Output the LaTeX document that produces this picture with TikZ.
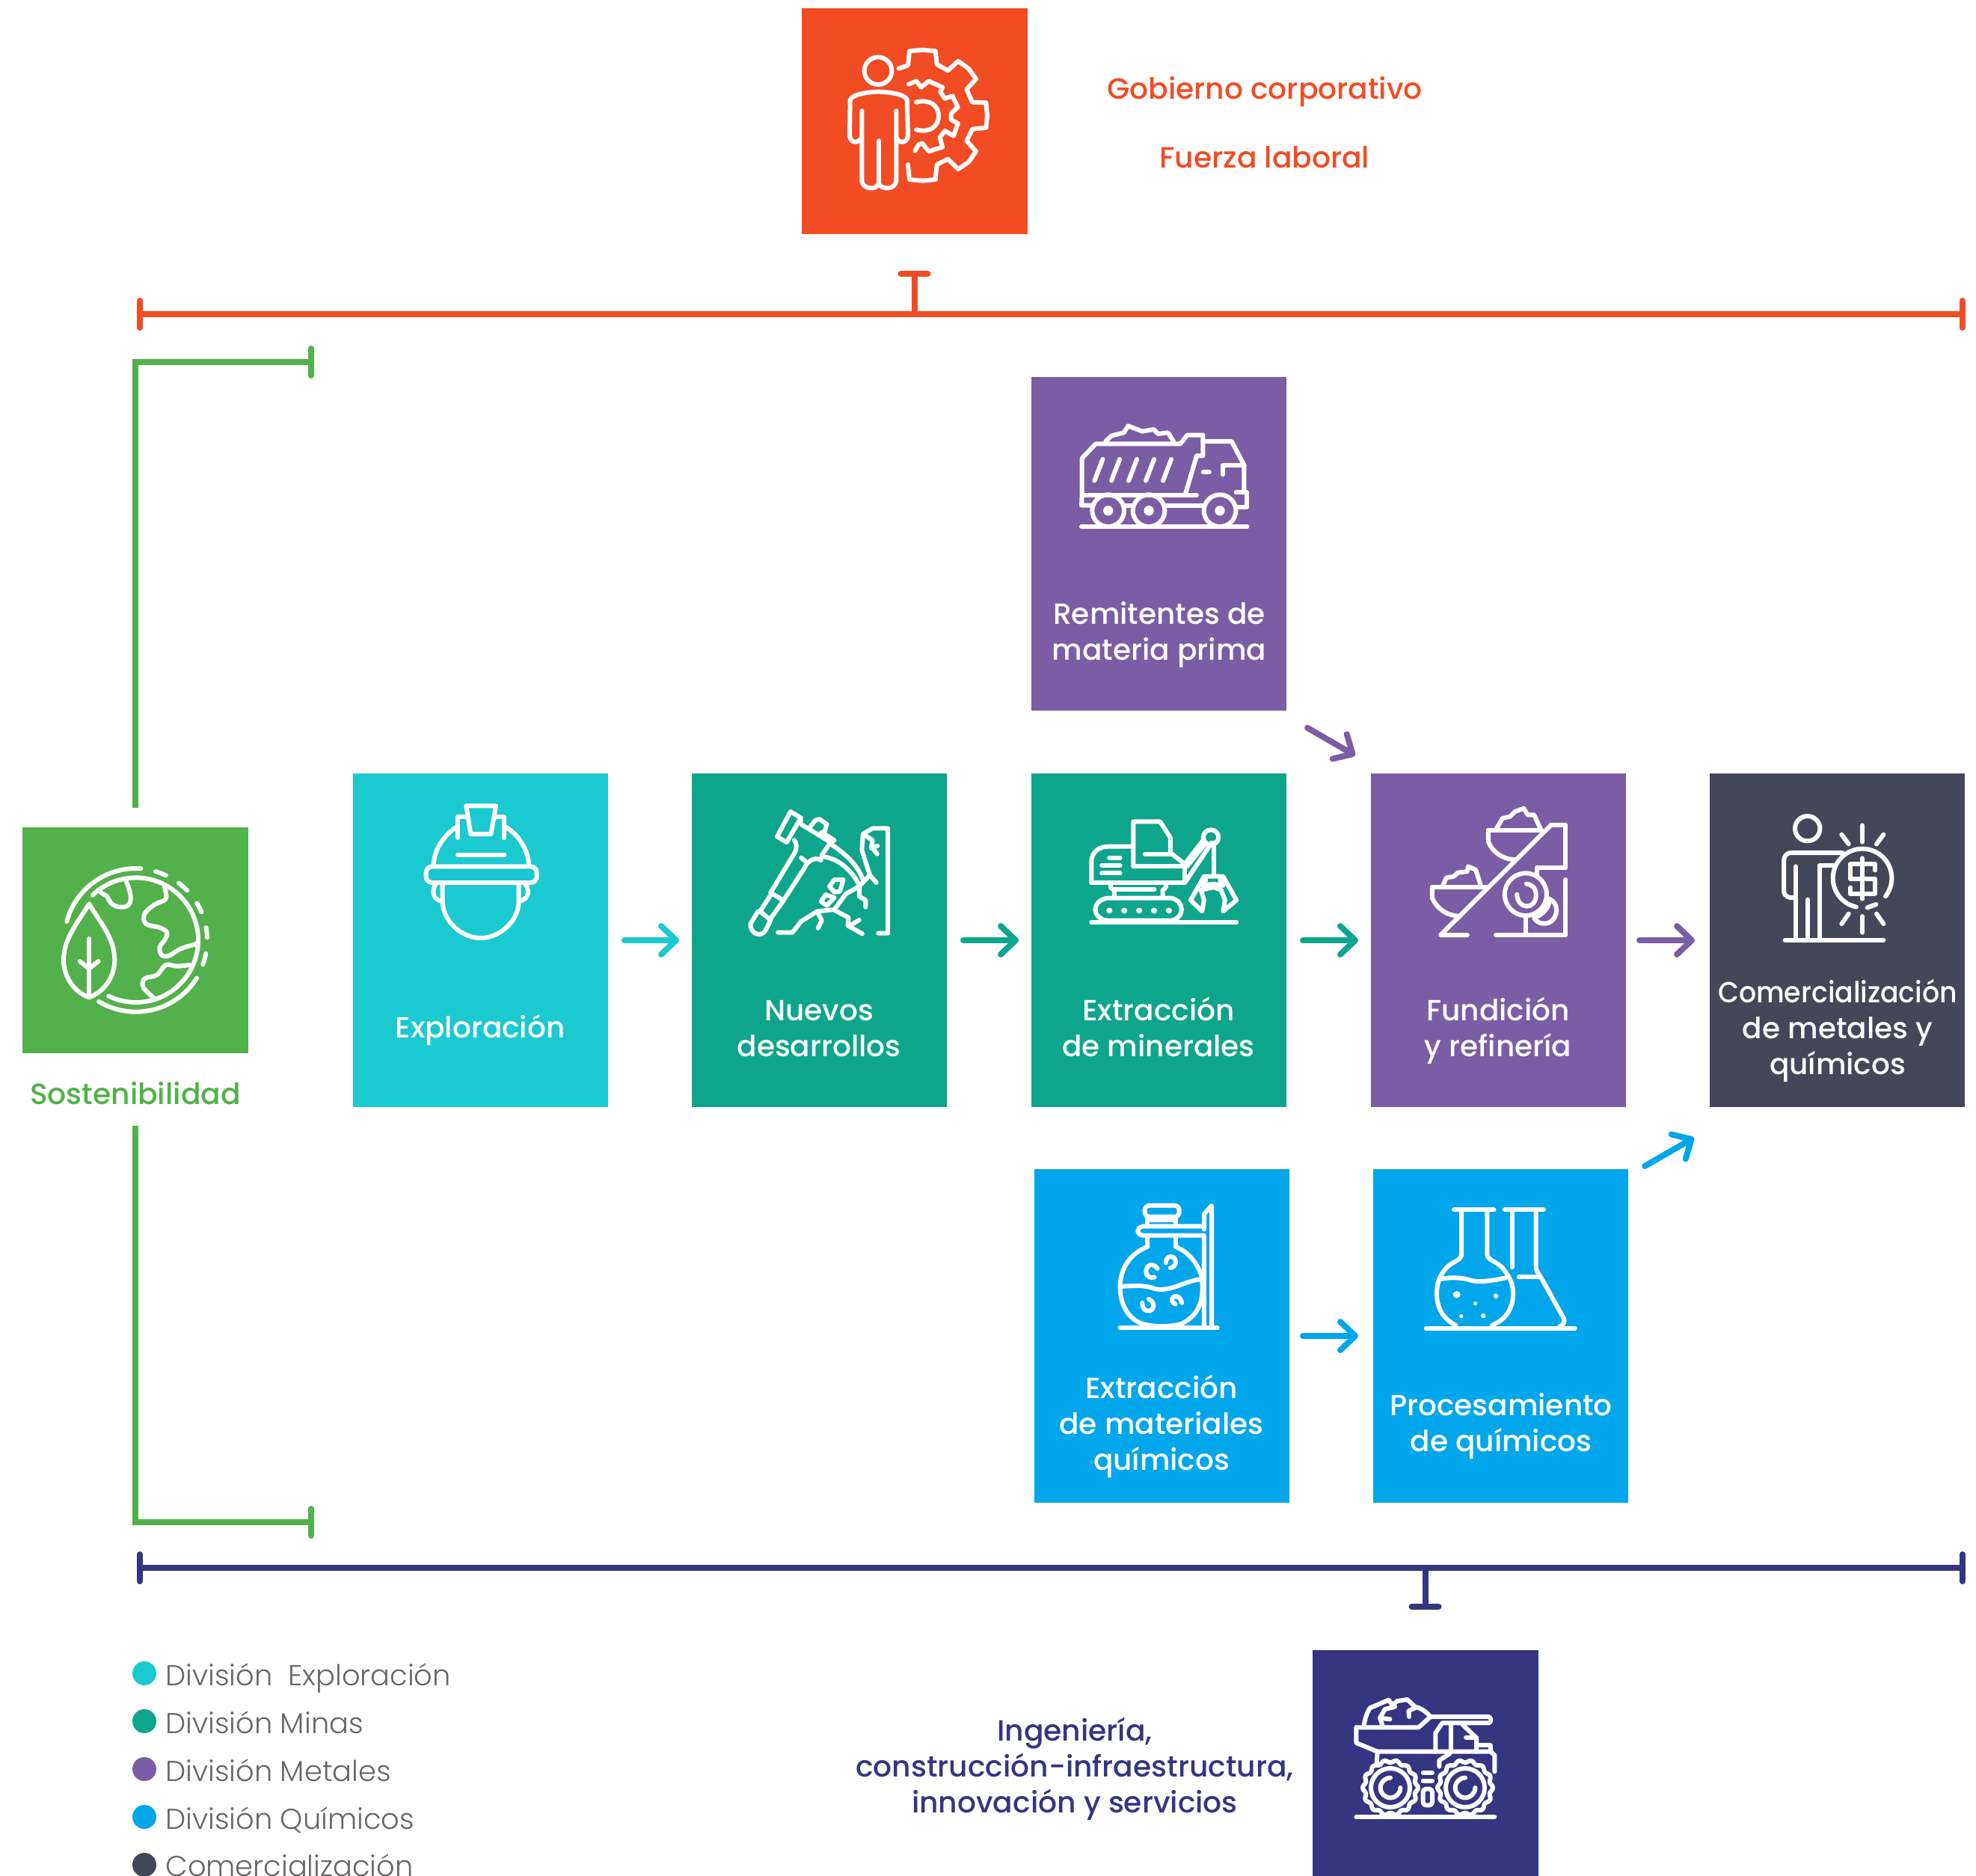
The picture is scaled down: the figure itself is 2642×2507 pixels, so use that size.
\documentclass[tikz,border=0pt]{standalone}
\usepackage{fontspec}
\setmainfont{Poppins}
\newfontfamily\medf{Poppins Medium}
\newfontfamily\lightf{Poppins Light}
\usetikzlibrary{arrows.meta,calc}
\definecolor{corange}{HTML}{F24C24}
\definecolor{cgreen}{HTML}{52B14B}
\definecolor{ccyan}{HTML}{1BC9D0}
\definecolor{cteal}{HTML}{0EA58D}
\definecolor{cpurple}{HTML}{7B5DA5}
\definecolor{cblue}{HTML}{02A6EB}
\definecolor{cdark}{HTML}{444659}
\definecolor{cnavy}{HTML}{353581}
\definecolor{cgrey}{HTML}{666666}
\newcommand{\carc}[5]{\draw ([shift={(#1,#2)}]#4:#3) arc[start angle=#4,end angle=#5,radius=#3];}
\tikzset{
 bx/.style={rectangle,inner sep=0pt,outer sep=0pt,minimum width=170.5pt,minimum height=223pt},
 sq/.style={rectangle,inner sep=0pt,outer sep=0pt,minimum width=151pt,minimum height=151pt},
 lab/.style={text=white,align=center,inner sep=0pt,font=\medf\fontsize{19.5}{24}\selectfont},
 head/.style={inner sep=0pt,align=center,font=\medf\fontsize{19.6}{24}\selectfont},
 leg/.style={anchor=base west,inner sep=0pt,text=cgrey,font=\lightf\fontsize{19.2}{22}\selectfont},
 dot/.style={circle,inner sep=0pt,minimum size=16pt},
 arr/.style={line width=4pt,line cap=round,-{Straight Barb[length=10pt,width=19pt,round]}},
 bus/.style={line width=4pt,{Bar[width=18pt,round]}-{Bar[width=18pt,round]}},
 stem/.style={line width=4pt,{Bar[width=18pt,round]}-},
 zs/.style={x=0.166667pt,y=-0.166667pt},
 zw/.style={x=0.2551pt,y=-0.166667pt},
 icon/.style={draw=white,line width=3pt,line cap=round,line join=round},
}
\begin{document}
\begin{tikzpicture}[x=0.5pt,y=-0.5pt]
\useasboundingbox (0,0) rectangle (2642,2507);
% boxes
\node[sq,fill=corange] (gob) at (1222.5,162) {};
\node[sq,fill=cgreen] (sost) at (181,1257) {};
\node[sq,fill=cnavy] (ing) at (1905.5,2357) {};
\node[bx,fill=cpurple] (remit) at (1549.5,727) {};
\node[bx,fill=ccyan] (expl) at (642.5,1257) {};
\node[bx,fill=cteal] (nuev) at (1095.5,1257) {};
\node[bx,fill=cteal] (extr) at (1549.5,1257) {};
\node[bx,fill=cpurple] (fund) at (2003.5,1257) {};
\node[bx,fill=cdark] (comer) at (2456.5,1257) {};
\node[bx,fill=cblue] (emat) at (1553.5,1786) {};
\node[bx,fill=cblue] (proc) at (2006.5,1786) {};
% labels
\node[head,text=corange] (tgob) at (1691,123) {Gobierno corporativo};
\node[head,text=corange] (tfue) at (1691,210) {Fuerza laboral};
\node[head,text=cgreen] (tsost) at (181,1462) {Sostenibilidad};
\node[head,text=cnavy] (ting) at (1437,2365) {Ingeniería,\\construcción-infraestructura,\\innovación y servicios};
\node[lab] (tremit) at (1550,849) {Remitentes de\\materia prima};
\node[lab] (texpl) at (642,1377) {Exploración};
\node[lab] (tnuev) at (1095,1375) {Nuevos\\desarrollos};
\node[lab] (textr) at (1549,1373) {Extracción\\de minerales};
\node[lab] (tfund) at (2003,1378) {Fundición\\y refinería};
\node[lab] (tcomer) at (2457,1378) {\scalebox{0.93}[1]{Comercialización}\\de metales y\\químicos};
\node[lab] (temat) at (1553,1907) {Extracción\\de materiales\\químicos};
\node[lab] (tproc) at (2007,1907) {Procesamiento\\de químicos};
% legend
\node[dot,fill=ccyan] (d1) at (193,2237) {};
\node[dot,fill=cteal] (d2) at (193,2301) {};
\node[dot,fill=cpurple] (d3) at (193,2365) {};
\node[dot,fill=cblue] (d4) at (193,2429) {};
\node[dot,fill=cdark] (d5) at (193,2493) {};
\node[leg] (l1) at (221,2253) {División\ \ Exploración};
\node[leg] (l2) at (221,2317) {División Minas};
\node[leg] (l3) at (221,2381) {División Metales};
\node[leg] (l4) at (221,2445) {División Químicos};
\node[leg] (l5) at (221,2508) {Comercialización};
% bus lines
\coordinate (bo1) at (183,420); \coordinate (bo2) at (2628,420);
\coordinate (bn1) at (183,2096); \coordinate (bn2) at (2628,2096);
\coordinate (g1) at (420,484); \coordinate (g2) at (420,2035);
\draw[bus,corange] (bo1) -- (bo2);
\draw[stem,corange,shorten <=24.5pt] (gob.south) -- (gob.south |- bo1);
\draw[bus,cnavy] (bn1) -- (bn2);
\draw[stem,cnavy,shorten <=27.2pt] (ing.north) -- (ing.north |- bn1);
\draw[line width=4pt,cgreen,-{Bar[width=18pt,round]},shorten <=13pt] (sost.north) |- (g1);
\draw[line width=4pt,cgreen,-{Bar[width=18pt,round]},shorten <=48.5pt] (sost.south) |- (g2);
% arrows
\draw[arr,ccyan,shorten <=11pt,shorten >=8.5pt] (expl) -- (nuev);
\draw[arr,cteal,shorten <=11pt,shorten >=8.5pt] (nuev) -- (extr);
\draw[arr,cteal,shorten <=11pt,shorten >=8.5pt] (extr) -- (fund);
\draw[arr,cpurple,shorten <=9pt,shorten >=10pt] (fund) -- (comer);
\draw[arr,cblue,shorten <=9pt,shorten >=10pt] (emat) -- (proc);
\draw[arr,cpurple] ($(remit.south east)+(28,23)$) -- ($(fund.north west)+(-21,-24)$);
\draw[arr,cblue] ($(proc.north east)+(22,-4)$) -- ($(comer.south west)+(-21,41)$);
% --- icons ---
% person + gear
\begin{scope}[shift={(1060,0)},zs,icon]
\draw (342,284) circle[radius=55];
\draw (230,400) .. controls (240,375) and (320,368) .. (342,368) .. controls (370,368) and (450,375) .. (458,400);
\draw (230,400) -- (228,545) .. controls (232,575) and (262,578) .. (277,550);
\draw (458,400) -- (462,545) .. controls (458,575) and (425,578) .. (415,550);
\draw (277,445) -- (277,725) .. controls (280,760) and (335,765) .. (345,735) .. controls (355,765) and (412,760) .. (415,725) -- (415,445);
\draw (345,565) -- (345,735);
\draw (425,275)--(462,262)--(468,205)--(520,200)--(572,205)--(578,258)--(622,283)--(663,245)--(705,275)--(735,317)--(697,358)--(720,410)--(775,412)--(780,465)--(775,512)--(720,518)--(697,565)--(735,607)--(705,650)--(663,678)--(622,638)--(578,660)--(572,720)--(520,725)--(468,720)--(462,660);
\draw (465,338)--(495,325)--(515,350)--(545,325)--(600,350)--(592,370)--(610,395)--(640,385)--(662,430)--(635,455)--(635,480)--(662,495)--(645,545)--(610,525)--(590,550)--(600,590)--(545,607)--(520,575)--(505,580)--(490,605);
\draw (495,410) .. controls (550,395) and (585,425) .. (585,465) .. controls (585,505) and (550,535) .. (495,520);
\end{scope}
% dump truck
\begin{scope}[shift={(1380,500)},zs,icon]
\draw (198,612)--(862,612);
\draw (200,480)--(200,338)--(255,280)--(595,280)--(622,245)--(685,245)--(685,328)--(660,328)--(615,480);
\draw (295,270)--(318,248)--(368,235)--(385,208)--(442,230)--(488,222)--(505,240)--(545,235)--(568,272);
\foreach \a in {250,318,387,456,525} \draw (\a,428)--(\a+33,342);
\draw (200,485)--(660,485);
\draw (200,485)--(198,527)--(245,527);
\draw (372,527)--(400,527);
\draw (535,527)--(690,527);
\draw (820,535)--(862,535)--(862,475)--(818,475);
\draw (685,270)--(800,270)--(850,365)--(850,475);
\draw (765,403)--(765,365)--(850,365);
\draw (686,394)--(710,394);
\foreach \a in {305,468,753} {\draw (\a,548) circle[radius=64]; \fill[white] (\a,548) circle[radius=20];}
\end{scope}
% globe
\begin{scope}[shift={(0,1090)},zs,icon]
\carc{545}{500}{287}{195}{274}
\carc{545}{500}{288}{121}{32}
\carc{545}{500}{286}{286}{295}
\carc{545}{500}{286}{307}{316}
\carc{545}{500}{286}{329}{337}
\carc{545}{500}{286}{350}{358}
\carc{545}{500}{286}{11}{20}
\carc{545}{500}{250}{226}{476}
\draw (405,310) -- (430,325) .. controls (445,365) and (470,368) .. (490,368) .. controls (530,368) and (535,330) .. (505,262);
\draw plot[smooth,tension=.6] coordinates {(660,290)(665,335)(620,358)(580,395)(585,435)(640,450)(670,470)(660,500)(640,530)(650,562)(680,562)(725,535)(790,515)};
\draw plot[smooth,tension=.6] coordinates {(760,600)(710,605)(665,600)(630,640)(580,655)(575,690)(620,735)};
\draw (357,355) .. controls (320,420) and (255,490) .. (255,580) .. controls (255,650) and (300,710) .. (357,730) .. controls (415,710) and (460,650) .. (460,580) .. controls (460,490) and (395,420) .. (357,355) -- cycle;
\draw (357,495)--(357,725);
\draw (320,585)--(357,615)--(395,585);
\end{scope}
% helmet
\begin{scope}[shift={(460,1030)},zw,icon]
\draw[rounded corners=4pt] (215,385) rectangle (505,450);
\draw (235,380) .. controls (235,320) and (260,260) .. (297,225);
\draw (485,380) .. controls (482,320) and (460,260) .. (422,225);
\draw (298,270)--(298,185)--(322,185);
\draw (420,270)--(420,185)--(396,185);
\draw (320,142)--(398,142)--(385,255)--(332,255)--cycle;
\draw (298,338)--(420,338);
\draw (258,450)--(258,530) .. controls (262,610) and (310,672) .. (358,672) .. controls (405,672) and (455,610) .. (458,530) -- (458,450);
\draw (240,455) .. controls (228,490) and (235,520) .. (258,525);
\draw (475,455) .. controls (490,490) and (480,520) .. (458,525);
% pick
\draw (1170,165)--(1197,190)--(1160,288)--(1135,265)--cycle;
\draw (1197,190)--(1197,215)--(1275,288)--(1252,340);
\draw (1222,225)--(1235,200)--(1245,195)--(1265,215)--(1260,245)--(1250,250);
\draw (1262,258)--(1285,280)--(1275,290);
\draw (1180,280) .. controls (1190,300) and (1185,325) .. (1175,345) -- (1118,490);
\draw (1150,525)--(1205,395) .. controls (1215,360) and (1235,345) .. (1250,360);
\draw (1198,350)--(1212,368);
\draw (1118,490)--(1150,520);
\draw (1118,500)--(1090,565)--(1118,600);
\draw (1150,525)--(1115,600);
\draw (1085,565)--(1065,615) .. controls (1065,660) and (1095,670) .. (1105,640) -- (1118,600);
\draw (1252,345) .. controls (1300,350) and (1340,420) .. (1350,462);
\draw (1280,300) .. controls (1320,340) and (1350,390) .. (1360,440);
\draw (1350,465)--(1315,495)--(1285,558)--(1240,565)--(1198,605)--(1175,650)--(1137,650);
\draw (1240,565)--(1252,602)--(1242,632);
\draw (1285,560)--(1322,590)--(1320,622)--(1358,655);
\draw (1330,618)--(1350,600);
\draw (1350,465)--(1350,505)--(1367,520)--(1367,548);
\draw (1350,465)--(1378,420)--(1357,320)--(1360,255)--(1385,232)--(1425,232)--(1425,653)--(1400,653);
\draw (1360,255)--(1385,280)--(1382,305)--(1397,335);
\draw (1382,312)--(1398,302);
\draw (1378,420)--(1395,450);
\draw (1285,438)--(1308,438)--(1300,485)--(1285,488)--(1272,465)--cycle;
\draw (1262,498)--(1285,510)--(1265,542)--(1250,525)--cycle;
\end{scope}
% excavator + smelter
\begin{scope}[shift={(1370,1030)},zw,icon]
\draw (175,610)--(555,610);
\draw (215,602)--(385,602) .. controls (420,590) and (420,525) .. (385,512) -- (215,512) .. controls (175,525) and (175,590) .. (215,602);
\foreach \a in {222,261,300,339,378} \fill[white] (\a,562) ellipse[x radius=8,y radius=12];
\draw (225,455)--(225,470)--(235,480)--(235,505);
\draw (370,455)--(370,470)--(362,480)--(362,505);
\draw (235,477)--(340,477);
\draw (175,450)--(420,450)--(420,385)--(285,385);
\draw (175,450)--(175,360) .. controls (178,325) and (195,305) .. (220,305) -- (285,305);
\draw (285,385)--(285,205)--(355,205)--(382,270)--(382,330)--(420,375);
\draw (315,335)--(382,335);
\draw (222,350)--(250,350); \draw (202,381)--(250,381); \draw (202,412)--(250,412);
\draw (420,375)--(470,275);
\draw (420,450)--(490,290);
\draw (425,385)--(475,290);
\draw (488,268) ellipse[x radius=20,y radius=30];
\draw (495,290)--(495,422);
\draw (470,425)--(520,425)--(555,520)--(520,565)--(525,520)--(515,480)--(495,468)--(462,480)--(470,520)--(465,565)--(435,520)--(470,425);
\draw (475,440)--(465,462)--(495,455)--(520,462)--(512,440);
% smelter
\draw (1380,218)--(1090,660)--(1160,660);
\draw (1380,218)--(1418,218)--(1418,390)--(1342,390)--(1342,425);
\draw (1235,660)--(1418,660)--(1418,438);
\draw (1215,240)--(1355,240);
\draw (1215,240)--(1215,285) .. controls (1225,325) and (1250,355) .. (1285,358);
\draw (1235,238)--(1252,192)--(1272,185)--(1285,165)--(1308,152)--(1318,178)--(1335,178)--(1352,235);
\draw (1068,468)--(1215,468);
\draw (1068,468)--(1068,512) .. controls (1080,550) and (1100,580) .. (1140,585);
\draw (1095,465)--(1105,430)--(1125,425)--(1135,410)--(1160,405)--(1162,385)--(1182,398)--(1195,460);
\draw (1313,497) ellipse[x radius=55,y radius=85];
\draw (1290,497) .. controls (1292,560) and (1340,560) .. (1340,500) .. controls (1340,470) and (1330,458) .. (1315,455);
\draw (1313,590)--(1313,660);
\draw (1375,515) .. controls (1400,530) and (1400,590) .. (1375,610) .. controls (1360,620) and (1340,610) .. (1335,590);
\draw (1345,585) .. controls (1370,560) and (1375,540) .. (1375,515);
\end{scope}
% flasks
\begin{scope}[shift={(1370,1570)},zw,icon]
\draw (250,615)--(505,615);
\draw (470,160)--(490,125)--(490,610);
\draw (470,160)--(470,220);
\draw (470,208)--(310,208) .. controls (292,215) and (292,240) .. (310,245) -- (470,245) -- (470,610);
\draw[rounded corners=3pt] (315,125) rectangle (405,170);
\draw (322,170)--(322,205); \draw (395,170)--(395,205);
\draw (325,182)--(395,182);
\draw (322,250)--(322,290); \draw (395,250)--(395,290);
\draw (322,290) .. controls (270,320) and (250,390) .. (250,450) .. controls (250,520) and (270,580) .. (310,600) .. controls (340,612) and (380,612) .. (410,600) .. controls (450,570) and (470,520) .. (465,430);
\draw (395,290) .. controls (430,310) and (455,360) .. (465,415);
\draw (250,450) .. controls (290,445) and (320,445) .. (340,458) .. controls (380,475) and (420,425) .. (465,420);
\draw (348,378) .. controls (335,350) and (318,365) .. (318,390) .. controls (318,410) and (330,418) .. (340,412);
\draw (382,375) .. controls (400,370) and (400,335) .. (385,330) .. controls (375,328) and (370,340) .. (370,355);
\draw (308,515) .. controls (308,550) and (328,555) .. (335,540) .. controls (342,525) and (335,505) .. (325,500);
\draw (412,515) .. controls (410,495) and (400,485) .. (392,490) .. controls (382,495) and (385,515) .. (395,520);
% second group
\draw (1052,618)--(1442,618);
\draw (1125,142)--(1230,142);
\draw (1258,142)--(1360,142);
\draw (1145,150)--(1145,320) .. controls (1145,345) and (1120,350) .. (1105,375) .. controls (1085,410) and (1080,440) .. (1080,480) .. controls (1080,530) and (1095,580) .. (1130,605);
\draw (1212,150)--(1212,320) .. controls (1212,345) and (1240,350) .. (1255,380) .. controls (1275,420) and (1280,445) .. (1280,480) .. controls (1280,530) and (1265,580) .. (1225,605);
\draw (1090,420) .. controls (1120,410) and (1150,415) .. (1170,425) .. controls (1190,435) and (1230,425) .. (1260,415);
\draw (1277,150)--(1277,372);
\draw (1340,150)--(1340,370) .. controls (1340,385) and (1345,395) .. (1350,405) -- (1412,575) .. controls (1418,590) and (1412,605) .. (1400,612);
\draw (1295,412)--(1345,412);
\fill[white] (1132,482) ellipse[x radius=10,y radius=14];
\fill[white] (1235,488) ellipse[x radius=6,y radius=10];
\fill[white] (1181,518) ellipse[x radius=5,y radius=8];
\fill[white] (1144,569) ellipse[x radius=5,y radius=8];
\fill[white] (1202,567) ellipse[x radius=6,y radius=10];
\end{scope}
% haul truck
\begin{scope}[shift={(1780,2200)},zs,icon]
\draw (100,687)--(655,687);
\foreach \c in {237,537} {
 \draw plot[domain=0:360,samples=121,smooth] ({\c+(106+5*cos(\x*14))*cos(\x)},{570+(106+5*cos(\x*14))*sin(\x)});
 \draw (\c,570) circle[radius=78];
 \carc{\c}{570}{40}{270}{0}
}
\draw (100,328)--(350,328)--(398,285)--(632,285) .. controls (642,290) and (642,305) .. (632,310) -- (445,310) -- (418,350) -- (418,425);
\draw (100,328)--(100,390)--(185,425)--(640,425)--(655,440)--(655,505);
\draw (480,315)--(480,420);
\draw (525,315)--(582,370)--(582,425);
\draw (540,368)--(582,368);
\draw (582,400)--(638,400)--(638,425);
\draw (185,425)--(182,470);
\draw (433,485)--(433,460)--(475,433);
\draw (130,325) .. controls (135,290) and (145,265) .. (155,250) -- (230,218) -- (245,238) -- (265,222) -- (305,216) -- (335,245) .. controls (360,250) and (380,265) .. (398,285);
\draw (205,320)--(195,290)--(235,295);
\draw (195,290)--(215,255)--(255,245);
\draw (312,285)--(310,262)--(335,250);
\draw (368,510)--(405,510);
\draw (368,542)--(405,542);
\draw[rounded corners=2pt] (368,575) rectangle (405,640);
\end{scope}
% trader
\begin{scope}[shift={(2330,1060)},zs,icon]
\draw (260,143) circle[radius=50];
\draw (400,240)--(195,240) .. controls (175,240) and (165,255) .. (165,275) -- (165,395) .. controls (165,415) and (190,425) .. (212,418);
\draw (212,295)--(212,585);
\draw (260,428)--(260,585);
\draw (308,585)--(308,292)--(365,292);
\draw (170,590)--(565,590);
\carc{480}{342}{118}{102}{398}
\draw (500,460)--(535,447);
\draw (480,130)--(480,197);
\draw (397,167)--(425,205);
\draw (565,167)--(537,205);
\draw (425,485)--(397,525);
\draw (537,485)--(565,525);
\draw (480,495)--(480,560);
\draw (480,262)--(480,425);
\draw (530,310)--(530,285)--(432,285)--(432,345)--(530,345)--(530,405)--(432,405)--(432,380);
\end{scope}
\end{tikzpicture}
\end{document}
